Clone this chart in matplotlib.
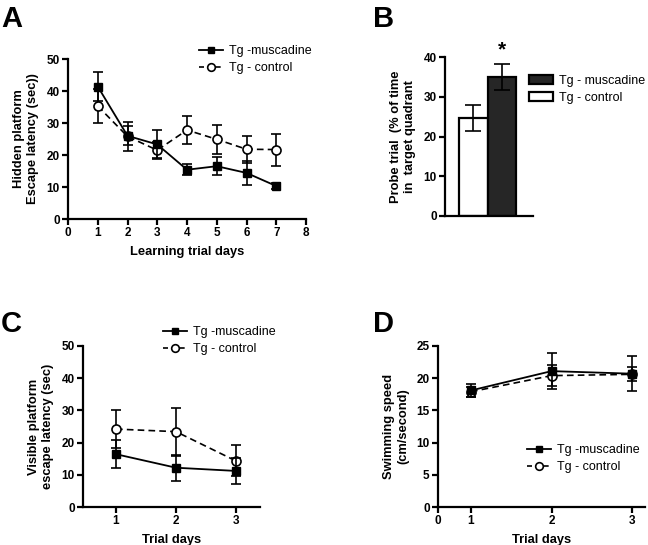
import matplotlib
matplotlib.use("Agg")
import matplotlib.pyplot as plt
from matplotlib.lines import Line2D
from matplotlib.patches import Patch

plt.rcParams['font.family'] = ['Liberation Sans', 'DejaVu Sans']

# ---------------- data ----------------
# Panel A: hidden platform escape latency (sec)
a_days = [1, 2, 3, 4, 5, 6, 7]
a_musc = [41.4, 26.0, 23.3, 15.4, 16.5, 14.4, 10.3]
a_musc_err = [4.4, 3.0, 4.5, 1.8, 2.9, 3.8, 0.8]
a_ctrl = [35.3, 25.8, 21.5, 27.8, 24.9, 21.8, 21.7]
a_ctrl_err = [5.2, 4.5, 2.5, 4.4, 4.6, 4.2, 5.0]

# Panel B: probe trial (% of time in target quadrant)
b_groups = ["Tg - control", "Tg - muscadine"]
b_values = [24.7, 35.0]
b_err = [3.2, 3.2]

# Panel C: visible platform escape latency (sec)
c_days = [1, 2, 3]
c_musc = [16.4, 12.2, 11.2]
c_musc_err = [4.3, 4.0, 4.0]
c_ctrl = [24.2, 23.4, 14.3]
c_ctrl_err = [5.8, 7.5, 4.8]

# Panel D: swimming speed (cm/second)
d_days = [1, 2, 3]
d_musc = [18.1, 21.1, 20.7]
d_musc_err = [1.0, 2.8, 2.7]
d_ctrl = [17.9, 20.4, 20.6]
d_ctrl_err = [0.8, 1.6, 1.1]

lbl_musc = "Tg -muscadine"
lbl_ctrl = "Tg - control"

# ---------------- figure ----------------
W, H = 648, 545
fig = plt.figure(figsize=(W / 100, H / 100), dpi=100)


def rect(l, r, t, b):
    return [l / W, 1 - b / H, (r - l) / W, (b - t) / H]


TICK_FS = 8.5
LAB_FS = 9.3
LEG_FS = 9


def style(ax):
    for s in ['top', 'right']:
        ax.spines[s].set_visible(False)
    for s in ['left', 'bottom']:
        ax.spines[s].set_linewidth(1.6)
    ax.tick_params(width=1.6, length=4, labelsize=TICK_FS, pad=2)
    for t in ax.get_xticklabels() + ax.get_yticklabels():
        t.set_fontweight('bold')


def lines(ax, x, m, me, c, ce):
    ax.errorbar(x, c, yerr=ce, color='black', lw=1.2, ls=(0, (4, 2.5)),
                marker='o', ms=6.5, mfc='white', mec='black', mew=1.2,
                capsize=3.5, elinewidth=1.2, capthick=1.2, zorder=3, clip_on=False)
    ax.errorbar(x, m, yerr=me, color='black', lw=1.3, ls='-',
                marker='s', ms=5.5, mfc='black', mec='black',
                capsize=3.5, elinewidth=1.2, capthick=1.2, zorder=4, clip_on=False)


def line_handles():
    h1 = Line2D([], [], color='black', lw=1.3, marker='s', ms=5, mfc='black')
    h2 = Line2D([], [], color='black', lw=1.2, ls=(0, (3, 2)), marker='o', ms=5.5,
                mfc='white', mec='black', mew=1.2)
    return [h1, h2]


def add_legend(handles, labels, x, y):
    fig.legend(handles, labels, loc='upper left',
               bbox_to_anchor=(x / W, 1 - y / H), frameon=False,
               borderpad=0, borderaxespad=0, handlelength=1.9,
               handletextpad=0.5, labelspacing=0.4, fontsize=LEG_FS)


# ---- Panel A ----
axA = fig.add_axes(rect(68, 306, 59, 219))
lines(axA, a_days, a_musc, a_musc_err, a_ctrl, a_ctrl_err)
axA.set_xlim(0, 8)
axA.set_ylim(0, 50)
axA.set_xticks(range(0, 9))
axA.set_yticks(range(0, 51, 10))
axA.set_xlabel("Learning trial days", fontsize=LAB_FS, fontweight='bold', labelpad=5)
axA.set_ylabel("Hidden platform\nEscape latency (sec))", fontsize=LAB_FS,
               fontweight='bold', labelpad=5, linespacing=1.25)
style(axA)
add_legend(line_handles(), [lbl_musc, lbl_ctrl], 199, 45)

# ---- Panel B ----
axB = fig.add_axes(rect(445, 533, 57, 216))
xb = [0, 1]
bars = axB.bar(xb, b_values, width=1.0, color=['white', '#262626'],
               edgecolor='black', linewidth=1.6, zorder=2)
axB.errorbar(xb, b_values, yerr=b_err, fmt='none', ecolor='black',
             elinewidth=1.2, capsize=6, capthick=1.2, zorder=3)
axB.set_xlim(-1.0, 2.1)
axB.set_ylim(0, 40)
axB.set_xticks([])
axB.set_yticks(range(0, 41, 10))
axB.set_ylabel("Probe trial  (% of time\nin  target quadrant", fontsize=LAB_FS,
               fontweight='bold', labelpad=5, linespacing=1.25)
style(axB)
axB.text(1, 39.4, "*", ha='center', va='bottom', fontsize=15, fontweight='bold',
         clip_on=False)
add_legend([Patch(facecolor='#262626', edgecolor='black', lw=1.6),
            Patch(facecolor='white', edgecolor='black', lw=1.6)],
           [b_groups[1], b_groups[0]], 529, 75)

# ---- Panel C ----
axC = fig.add_axes(rect(83, 260, 346, 507))
lines(axC, c_days, c_musc, c_musc_err, c_ctrl, c_ctrl_err)
axC.set_xlim(0.45, 3.4)
axC.set_ylim(0, 50)
axC.set_xticks(c_days)
axC.set_yticks(range(0, 51, 10))
axC.set_xlabel("Trial days", fontsize=LAB_FS, fontweight='bold', labelpad=5)
axC.set_ylabel("Visible platform\nescape latency (sec)", fontsize=LAB_FS,
               fontweight='bold', labelpad=5, linespacing=1.25)
style(axC)
add_legend(line_handles(), [lbl_musc, lbl_ctrl], 163, 326)

# ---- Panel D ----
axD = fig.add_axes(rect(438, 645, 346, 507))
lines(axD, d_days, d_musc, d_musc_err, d_ctrl, d_ctrl_err)
axD.set_xlim(0.59, 3.16)
axD.set_ylim(0, 25)
axD.set_xticks([0.59] + d_days)
axD.set_xticklabels(['0'] + [str(d) for d in d_days])
axD.set_yticks(range(0, 26, 5))
axD.set_xlabel("Trial days", fontsize=LAB_FS, fontweight='bold', labelpad=5)
axD.set_ylabel("Swimming speed\n(cm/second)", fontsize=LAB_FS,
               fontweight='bold', labelpad=5, linespacing=1.25)
style(axD)
add_legend(line_handles(), [lbl_musc, lbl_ctrl], 527, 444)

# ---- panel letters ----
for letter, x, y in [("A", 1, 5), ("B", 373, 5), ("C", 1, 310), ("D", 373, 310)]:
    fig.text(x / W, 1 - y / H, letter, fontsize=21, fontweight='bold',
             ha='left', va='top')

fig.savefig("out.png", dpi=100)
